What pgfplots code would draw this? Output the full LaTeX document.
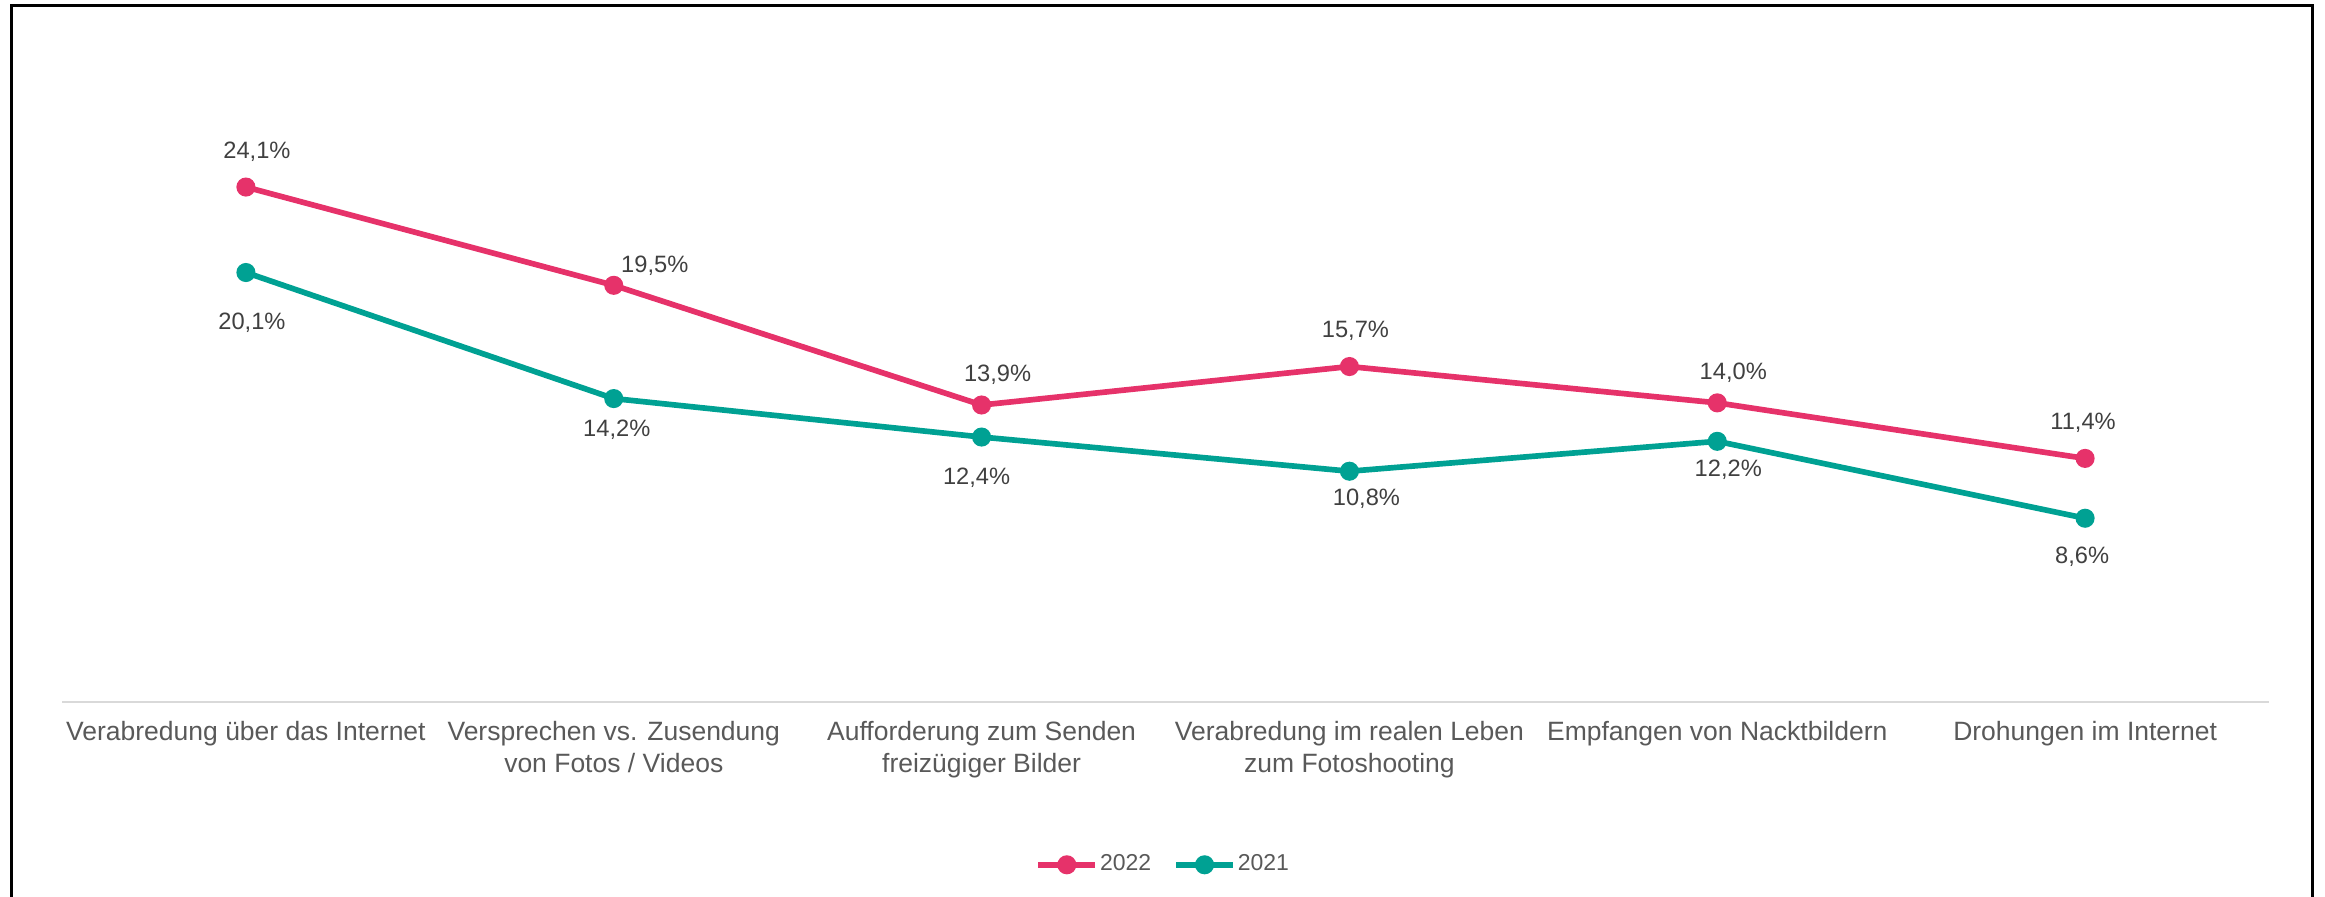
\documentclass[border=0pt]{standalone}
\usepackage{fontspec}
\setmainfont{Liberation Sans}
\usepackage{pgfplots}
\usepackage{pgfplotstable}
\pgfplotsset{compat=1.18}

\definecolor{rosa}{HTML}{E6326A}
\definecolor{petrol}{HTML}{00A193}
\definecolor{labeltext}{HTML}{404040}
\definecolor{axistext}{HTML}{595959}
\definecolor{gridgray}{HTML}{D9D9D9}

% values with label offsets (dx, dy in px, 1px = 0.3pt)
\pgfplotstableread{
x y dx dy
0 24.1 11 35
1 19.5 41 20
2 13.9 16 30
3 15.7 6 36
4 14.0 16 30
5 11.4 -2 36
}\datazweiundzwanzig

\pgfplotstableread{
x y dx dy
0 20.1 6 -50
1 14.2 3 -31
2 12.4 -5 -41
3 10.8 17 -28
4 12.2 11 -28
5 8.6 -3 -39
}\dateneinundzwanzig

\begin{document}
\begin{tikzpicture}
\useasboundingbox (0,0) rectangle (697.5pt,269.1pt);
\draw[line width=0.9pt, black] (3.3pt,-5pt) rectangle (693.6pt,267.3pt);
\begin{axis}[
  at={(18.6pt,58.5pt)}, anchor=south west,
  scale only axis,
  width=662.1pt, height=192.3pt,
  xmin=-0.5, xmax=5.5, ymin=0, ymax=30,
  axis y line=none,
  axis x line*=bottom,
  x axis line style={draw=gridgray, line width=0.6pt},
  xtick={0,1,2,3,4,5},
  major tick length=0pt,
  xticklabels={
    Verabredung über das Internet,
    Versprechen vs. Zusendung\\von Fotos / Videos,
    Aufforderung zum Senden\\freizügiger Bilder,
    Verabredung im realen Leben\\zum Fotoshooting,
    Empfangen von Nacktbildern,
    Drohungen im Internet},
  xticklabel style={align=center, anchor=north, inner sep=0pt, yshift=-5.6pt,
    font=\fontsize{7.95}{9.6}\selectfont, text=axistext},
  clip=false,
  nodes near coords={\pgfmathprintnumber[fixed, fixed zerofill, precision=1, use comma, assume math mode=true]{\pgfplotspointmeta}\%},
  visualization depends on={\thisrow{dx} \as \lblx},
  visualization depends on={\thisrow{dy} \as \lbly},
  every node near coord/.append style={anchor=center, inner sep=0pt,
    xshift={\lblx*0.3pt}, yshift={\lbly*0.3pt},
    font=\fontsize{7.1}{8.5}\selectfont, text=labeltext},
  legend style={at={(0.499,-0.254)}, anchor=center, draw=none, fill=none,
    legend columns=2, font=\fontsize{6.9}{8}\selectfont, text=axistext,
    nodes={inner sep=0.6pt},
    /tikz/every even column/.append style={column sep=6pt}},
  legend cell align=left,
]
\addplot[color=rosa, line width=1.7pt, mark=*, mark size=2.0pt,
  mark options={solid, fill=rosa, draw=rosa}]
  table[x=x, y=y] {\datazweiundzwanzig};
\addlegendentry{2022}
\addplot[color=petrol, line width=1.7pt, mark=*, mark size=2.0pt,
  mark options={solid, fill=petrol, draw=petrol}]
  table[x=x, y=y] {\dateneinundzwanzig};
\addlegendentry{2021}
\end{axis}
\end{tikzpicture}
\end{document}
